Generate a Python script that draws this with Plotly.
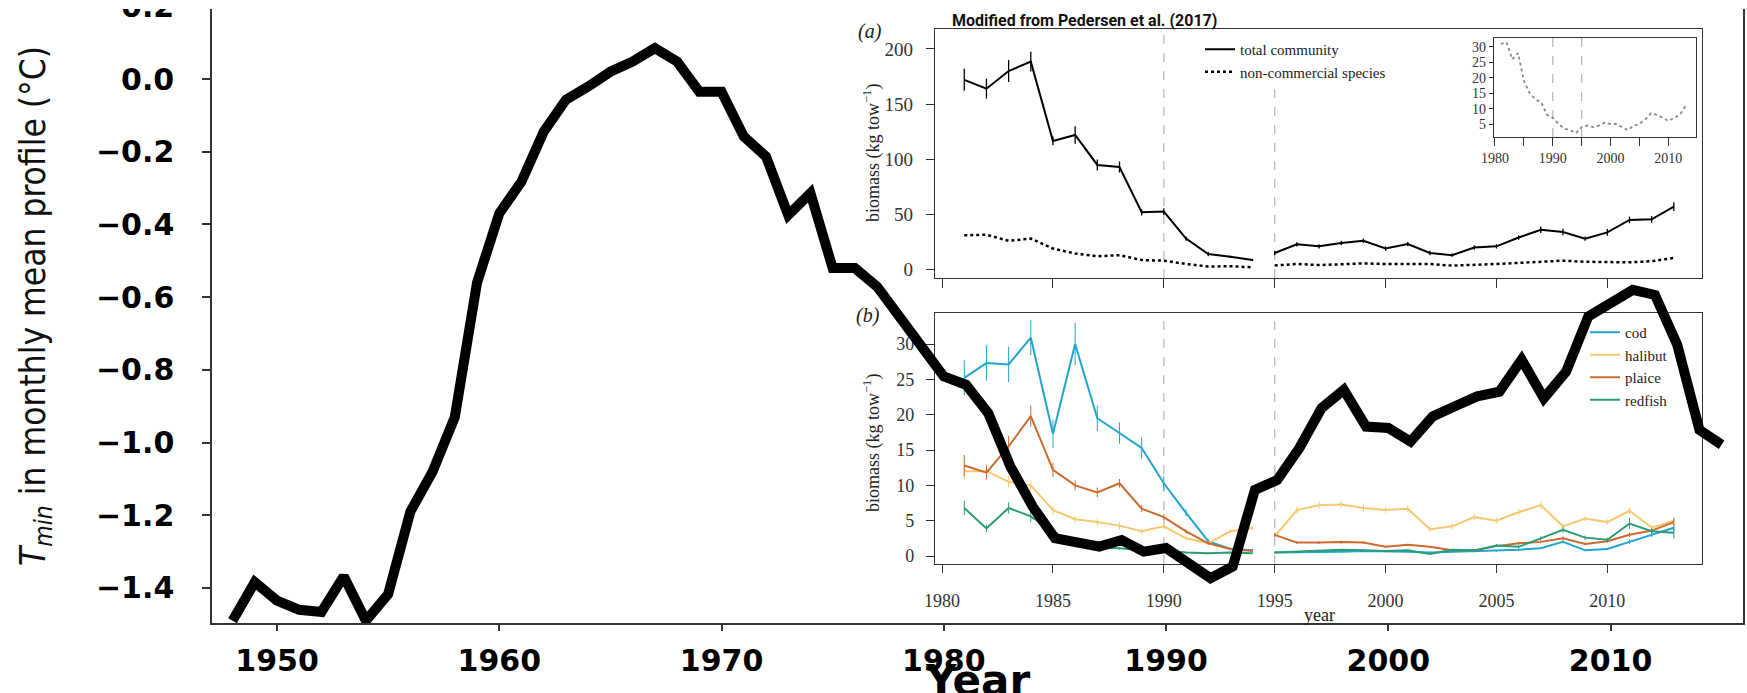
import plotly.graph_objects as go

W, H = 1747, 693
def fx(p):
    return p / W
def fy(p):
    return 1 - p / H

# ---------------- data ----------------
temp_years = list(range(1948, 2016))
temp_min = [-1.49, -1.384, -1.435, -1.46, -1.466, -1.368, -1.49, -1.417, -1.19, -1.08,
            -0.93, -0.56, -0.37, -0.282, -0.145, -0.057, -0.021, 0.020, 0.048, 0.085,
            0.048, -0.035, -0.035, -0.158, -0.213, -0.374, -0.314, -0.52, -0.52, -0.571,
            -0.653, -0.736, -0.818, -0.841, -0.919, -1.066, -1.176, -1.263, -1.277, -1.286,
            -1.268, -1.30, -1.29, -1.332, -1.373, -1.341, -1.13, -1.103, -1.015, -0.905,
            -0.855, -0.956, -0.96, -0.997, -0.928, -0.90, -0.873, -0.86, -0.772, -0.878,
            -0.805, -0.653, -0.616, -0.58, -0.594, -0.731, -0.965, -1.006]

bio_years = list(range(1981, 2014))
total_comm = [172, 164, 180, 188.5, 116.6, 122, 94.8, 93, 51.9, 52.5, 28, 14, 11.5, 8.6,
              15, 22.8, 21, 24, 26, 19, 23, 15, 13, 20, 21, 29, 36, 34, 28, 33.7, 45, 45.5, 57]
total_err = [10, 9, 10, 9, 4, 8, 5, 5, 3, 3, 2, 2, 1, 1,
             2, 2, 2, 2, 2, 2, 2, 2, 1.5, 2, 2, 2, 3, 3, 2, 3, 3, 3, 4]
noncomm = [31, 31.5, 26, 28, 19, 14.5, 12, 13, 8.6, 8, 5, 2.7, 3, 2,
           3.6, 5, 4, 4.5, 5.5, 5, 5, 5, 3.5, 4, 5, 6, 7, 8, 7, 6.5, 6.5, 7.5, 10.5]
noncomm_inset = [31, 31.5, 26, 28, 19, 15, 13, 12, 8, 7, 5, 3.5, 3, 2,
                 4, 4.5, 4, 4.5, 5.5, 5, 5, 4, 3, 4.5, 5, 6.5, 8.5, 8, 7, 6, 7, 8, 11]

cod = [25.2, 27.3, 27.1, 30.9, 17.3, 30, 19.5, 17.4, 15.3, 10.3, 6.1, 2.1, 1.0, 0.8,
       0.5, 0.5, 0.6, 0.6, 0.7, 0.7, 0.6, 0.5, 0.6, 0.6, 0.7, 0.9, 1.1, 2.0, 0.8, 1.0, 2.0, 3.0, 4.0]
cod_err = [2.5, 2.5, 2.5, 2.5, 2, 3, 1.8, 1.5, 1.5, 1, 0.5, 0.3, 0.2, 0.2,
           0.1, 0.1, 0.1, 0.1, 0.1, 0.1, 0.1, 0.1, 0.1, 0.1, 0.1, 0.1, 0.1, 0.2, 0.1, 0.1, 0.3, 0.3, 0.5]
halibut = [12.0, 12.0, 10.5, 10.0, 6.5, 5.2, 4.8, 4.3, 3.5, 4.2, 2.5, 1.8, 3.5, 4.0,
           2.8, 6.5, 7.2, 7.3, 6.8, 6.5, 6.7, 3.8, 4.2, 5.5, 5.0, 6.2, 7.2, 4.2, 5.3, 4.8, 6.4, 4.0, 5.0]
halibut_err = [1.2, 1.0, 0.8, 0.8, 0.6, 0.5, 0.5, 0.5, 0.4, 0.4, 0.3, 0.3, 0.3, 0.3,
               0.4, 0.5, 0.5, 0.5, 0.5, 0.5, 0.5, 0.4, 0.4, 0.4, 0.4, 0.5, 0.5, 0.4, 0.4, 0.4, 0.5, 0.4, 0.5]
plaice = [12.8, 11.8, 15.5, 19.8, 12.2, 10.0, 9.0, 10.3, 6.7, 5.5, 3.5, 1.8, 1.0, 0.7,
          3.0, 1.9, 1.9, 2.0, 1.9, 1.3, 1.6, 1.3, 0.8, 0.8, 1.4, 1.8, 2.0, 2.5, 1.7, 2.1, 3.0, 3.6, 4.8]
plaice_err = [1.5, 1.0, 1.5, 1.5, 1.0, 0.7, 0.7, 0.6, 0.5, 0.4, 0.3, 0.2, 0.1, 0.1,
              0.3, 0.2, 0.2, 0.2, 0.2, 0.1, 0.1, 0.1, 0.1, 0.1, 0.1, 0.2, 0.2, 0.3, 0.2, 0.2, 0.3, 0.3, 0.5]
redfish = [6.8, 3.9, 6.8, 5.6, 3.5, 1.8, 1.2, 1.1, 0.8, 0.8, 0.5, 0.4, 0.5, 0.4,
           0.5, 0.6, 0.7, 0.9, 0.8, 0.7, 0.8, 0.3, 0.9, 0.8, 1.5, 1.3, 2.5, 3.7, 2.6, 2.3, 4.6, 3.5, 3.3]
redfish_err = [1.0, 0.5, 0.8, 0.8, 0.5, 0.3, 0.2, 0.2, 0.1, 0.1, 0.1, 0.1, 0.1, 0.1,
               0.1, 0.1, 0.1, 0.1, 0.1, 0.1, 0.1, 0.1, 0.1, 0.1, 0.2, 0.2, 0.3, 0.4, 0.3, 0.3, 0.8, 0.4, 0.8]

species = ["cod", "halibut", "plaice", "redfish"]
species_vals = [cod, halibut, plaice, redfish]
species_errs = [cod_err, halibut_err, plaice_err, redfish_err]
species_cols = ["#22a4cf", "#f6c96f", "#cc6a2e", "#2a9c78"]

main_xticks = [1950, 1960, 1970, 1980, 1990, 2000, 2010]
main_yticks = [-1.4, -1.2, -1.0, -0.8, -0.6, -0.4, -0.2, 0.0, 0.2]
panel_xticks = [1980, 1985, 1990, 1995, 2000, 2005, 2010]
a_yticks = [0, 50, 100, 150, 200]
b_yticks = [0, 5, 10, 15, 20, 25, 30]
mini_yticks = [5, 10, 15, 20, 25, 30]
mini_xticks = [1980, 1985, 1990, 1995, 2000, 2005, 2010]
mini_xlabels = ["1980", "", "1990", "", "2000", "", "2010"]
period_lines = [1990, 1995]


def gapped(years, vals, errs=None, brk=1995):
    xs, ys, es = [], [], []
    for i, yr in enumerate(years):
        if yr == brk and xs:
            xs.append(None); ys.append(None); es.append(0)
        xs.append(yr); ys.append(vals[i]); es.append(errs[i] if errs else 0)
    return xs, ys, es

SERIF = "Liberation Serif"
fig = go.Figure()

# panel (a)
xs, ys, es = gapped(bio_years, total_comm, total_err)
fig.add_trace(go.Scatter(x=xs, y=ys, mode="lines", name="total community",
                         line=dict(color="black", width=2),
                         error_y=dict(type="data", array=es, width=0, thickness=1.3, color="black"),
                         xaxis="x2", yaxis="y2", legend="legend"))
xs, ys, es = gapped(bio_years, noncomm)
fig.add_trace(go.Scatter(x=xs, y=ys, mode="lines", name="non-commercial species",
                         line=dict(color="black", width=2.5, dash="dot"),
                         xaxis="x2", yaxis="y2", legend="legend"))
# mini inset
fig.add_trace(go.Scatter(x=bio_years, y=noncomm_inset, mode="lines", showlegend=False,
                         line=dict(color="#8a8a8a", width=1.8, dash="dot"),
                         xaxis="x3", yaxis="y3"))
# panel (b)
for nm, vals, errs, col in zip(species, species_vals, species_errs, species_cols):
    xs, ys, es = gapped(bio_years, vals, errs)
    fig.add_trace(go.Scatter(x=xs, y=ys, mode="lines", name=nm,
                             line=dict(color=col, width=2),
                             error_y=dict(type="data", array=es, width=0, thickness=1, color=col),
                             xaxis="x4", yaxis="y4", legend="legend2"))
# main temperature line (drawn last, on top)
fig.add_trace(go.Scatter(x=temp_years, y=temp_min, mode="lines", showlegend=False,
                         line=dict(color="black", width=10),
                         xaxis="x5", yaxis="y5"))

MAIN_TF = dict(family="DejaVu Sans", size=30, color="black", weight="bold")
PAN_TF = dict(family=SERIF, size=18, color="#333")

layout = dict(
    width=W, height=H, margin=dict(l=0, r=0, t=0, b=0, pad=0, autoexpand=False),
    paper_bgcolor="white", plot_bgcolor="rgba(0,0,0,0)",
    # main axes
    xaxis5=dict(domain=[fx(212), fx(1743)], range=[1947.075, 2015.96], anchor="y5",
                tickvals=main_xticks, ticks="outside", ticklen=6, tickwidth=1.5, tickcolor="#333",
                showline=True, linecolor="#333", linewidth=1.5, showgrid=False, zeroline=False,
                tickfont=MAIN_TF, ticklabelstandoff=4, automargin=False),
    yaxis5=dict(domain=[fy(623), 1], range=[-1.4963, 0.2173], anchor="x5",
                tickvals=main_yticks, tickformat=".1f", ticks="outside", ticklen=8, tickwidth=1.5,
                tickcolor="#333", showline=True, linecolor="#333", linewidth=1.5, mirror=True,
                showgrid=False, zeroline=False, tickfont=MAIN_TF, ticklabelstandoff=22,
                ticklabeloverflow="allow", automargin=False),
    # panel a
    xaxis2=dict(domain=[fx(935), fx(1702)], range=[1979.68, 2014.27], anchor="y2",
                tickvals=panel_xticks, showticklabels=False, ticks="outside", ticklen=9,
                tickcolor="#333", showline=True, linecolor="#333", linewidth=1.3, mirror=True,
                showgrid=False, zeroline=False),
    yaxis2=dict(domain=[fy(278), fy(29)], range=[-7.71, 218.1], anchor="x2",
                tickvals=a_yticks, ticks="outside", ticklen=8, tickcolor="#333",
                showline=True, linecolor="#333", linewidth=1.3, mirror=True,
                showgrid=False, zeroline=False, tickfont=dict(family=SERIF, size=19, color="#333"),
                ticklabelstandoff=9),
    # mini inset
    xaxis3=dict(domain=[fx(1494), fx(1696)], range=[1979.83, 2014.78], anchor="y3",
                tickvals=mini_xticks, ticktext=mini_xlabels, ticks="outside", ticklen=8,
                tickcolor="#333", showline=True, linecolor="#333", linewidth=1.2, mirror=True,
                showgrid=False, zeroline=False, tickfont=dict(family=SERIF, size=14, color="#333")),
    yaxis3=dict(domain=[fy(137), fy(38)], range=[0.78, 32.92], anchor="x3",
                tickvals=mini_yticks, ticks="outside", ticklen=4, tickcolor="#333",
                showline=True, linecolor="#333", linewidth=1.2, mirror=True,
                showgrid=False, zeroline=False, tickfont=dict(family=SERIF, size=14, color="#333")),
    # panel b
    xaxis4=dict(domain=[fx(935), fx(1702)], range=[1979.68, 2014.27], anchor="y4",
                tickvals=panel_xticks, ticks="outside", ticklen=8, tickcolor="#333",
                showline=True, linecolor="#333", linewidth=1.3, mirror=True,
                showgrid=False, zeroline=False, tickfont=PAN_TF, ticklabelstandoff=12),
    yaxis4=dict(domain=[fy(564), fy(313)], range=[-1.13, 34.39], anchor="x4",
                tickvals=b_yticks, ticks="outside", ticklen=8, tickcolor="#333",
                showline=True, linecolor="#333", linewidth=1.3, mirror=True,
                showgrid=False, zeroline=False, tickfont=PAN_TF, ticklabelstandoff=8),
    legend=dict(x=fx(1200), y=fy(33), xanchor="left", yanchor="top", bgcolor="white",
                font=dict(family=SERIF, size=15, color="#222"), tracegroupgap=0,
                itemwidth=30, borderwidth=0),
    legend2=dict(x=fx(1585), y=fy(316), xanchor="left", yanchor="top", bgcolor="rgba(0,0,0,0)",
                 font=dict(family=SERIF, size=15, color="#222"), tracegroupgap=0,
                 itemwidth=30, borderwidth=0),
    showlegend=True,
)
fig.update_layout(**layout)

shapes = []
for xa, ya in [("x2", "y2"), ("x3", "y3"), ("x4", "y4")]:
    for yr in period_lines:
        shapes.append(dict(type="line", xref=xa, yref=ya + " domain", x0=yr, x1=yr, y0=0, y1=1,
                           line=dict(color="#b5b5b5", width=1.2, dash="dash"), layer="below"))
# white strip at the very top (image crop)
shapes.append(dict(type="rect", xref="paper", yref="paper", x0=0, x1=1, y0=fy(9), y1=1,
                   fillcolor="white", line=dict(width=0), layer="above"))
fig.update_layout(shapes=shapes)

def note(text, px, py, font, angle=0, xanchor="center"):
    return dict(text=text, x=fx(px), y=fy(py), xref="paper", yref="paper", showarrow=False,
                textangle=angle, font=font, xanchor=xanchor, yanchor="middle")

ann = [
    note("Year", 978, 680, dict(family="DejaVu Sans", size=42, color="black", weight="bold")),
    note("<i>T<sub>min</sub></i> in monthly mean profile (°C)", 36, 306,
         dict(family="DejaVu Sans Condensed, Liberation Sans Narrow, Roboto", size=35, color="#111"),
         angle=-90),
    note("<b>Modified from Pedersen et al. (2017)</b>", 950, 21,
         dict(family="Roboto", size=16, color="#111"), xanchor="left"),
    note("<i>(a)</i>", 870, 31, dict(family=SERIF, size=20, color="#222")),
    note("<i>(b)</i>", 868, 315, dict(family=SERIF, size=20, color="#222")),
    note("biomass (kg tow<sup>−1</sup>)", 872, 153, dict(family=SERIF, size=18, color="#222"), angle=-90),
    note("biomass (kg tow<sup>−1</sup>)", 872, 443, dict(family=SERIF, size=18, color="#222"), angle=-90),
    note("year", 1319, 615, dict(family=SERIF, size=18, color="#222")),
]
fig.update_layout(annotations=ann)

fig.write_html("out.html")
